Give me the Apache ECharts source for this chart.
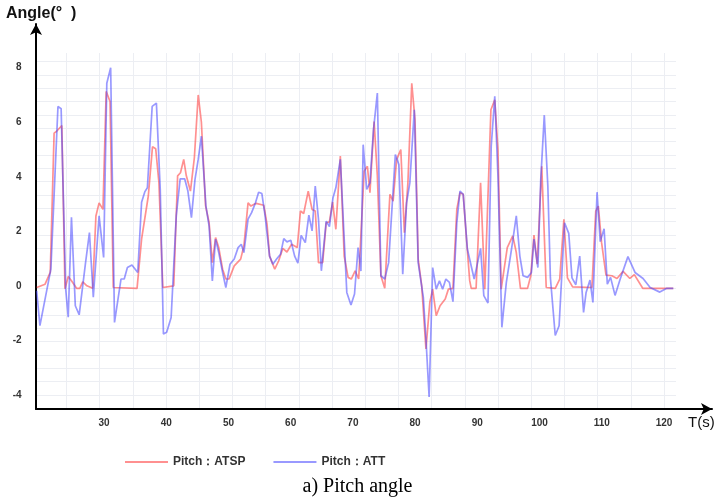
<!DOCTYPE html>
<html>
<head>
<meta charset="utf-8">
<script src="https://cdn.jsdelivr.net/npm/echarts@6/dist/echarts.min.js"></script>
<style>
html,body{margin:0;padding:0;background:#fff;}
#chart{width:715px;height:502px;}
</style>
</head>
<body>
<div id="chart"></div>
<script>
// Pitch: ATSP (red) — time (s) and angle (deg)
const atspT = [19.18,20.53,21.36,21.98,22.39,23.22,23.73,24.25,24.77,25.59,26.11,26.58,27.25,28.18,28.70,29.21,29.83,30.35,30.97,31.49,35.31,36.04,37.12,37.79,38.31,38.83,39.45,41.21,41.83,42.29,42.81,43.22,43.89,44.52,45.14,45.65,46.32,46.89,47.41,47.93,48.44,49.06,49.58,50.10,50.93,51.96,52.48,53.15,53.61,54.44,55.68,56.20,56.61,57.44,58.06,58.73,59.40,60.13,61.06,61.57,62.09,62.82,63.44,63.95,64.47,65.14,65.71,66.23,66.74,67.26,67.98,68.60,69.23,69.74,70.36,70.93,71.81,72.33,72.74,73.41,73.93,74.50,75.12,75.95,76.46,77.03,77.70,78.27,78.84,79.46,79.98,80.49,81.06,81.74,82.36,82.82,83.39,84.01,84.84,85.35,86.08,86.70,87.21,87.73,88.30,88.77,89.02,89.80,90.52,91.20,92.18,92.80,93.31,93.83,94.81,95.69,96.26,96.93,98.07,98.59,99.10,99.62,100.35,101.07,102.52,103.24,103.91,104.48,105.31,108.41,109.03,109.44,109.96,110.68,111.62,112.44,113.42,114.51,115.23,116.58,121.49];
const atspV = [-0.05,0.07,0.5,5.6,5.67,5.88,-0.1,0.35,0.2,-0.08,-0.08,0.16,0.01,-0.08,2.57,3.05,2.81,7.13,6.76,-0.05,-0.08,1.72,3.3,5.1,5.03,3.78,-0.05,0.01,4.04,4.15,4.64,4.05,3.48,4.7,7.0,6.0,2.95,2.32,0.86,1.78,1.41,0.62,0.26,0.26,0.74,0.99,1.47,3.05,2.93,3.03,2.96,2.26,1.1,0.62,0.92,1.38,1.25,1.53,1.41,2.75,2.66,3.48,2.81,2.75,0.86,0.86,2.32,2.35,3.08,2.08,4.76,1.1,0.32,0.26,0.56,0.26,4.21,4.39,3.42,6.03,4.03,0.38,-0.08,3.36,3.11,4.64,5.0,1.96,3.78,7.43,6.09,0.99,0.01,-2.3,-0.6,-0.11,-1.08,-0.72,-0.47,-0.11,-0.08,2.81,3.42,3.36,1.59,0.2,-0.08,-0.08,3.78,-0.11,6.46,6.82,5.0,-0.11,1.41,1.84,1.23,-0.08,-0.08,0.38,1.87,0.8,4.39,-0.05,-0.08,0.26,2.45,0.3,-0.03,-0.05,2.75,2.93,1.6,0.4,0.38,0.28,0.54,0.28,0.42,-0.08,-0.08];

// Pitch: ATT (blue)
const attT = [19.18,19.70,21.46,22.60,23.11,23.84,24.25,24.77,25.39,26.01,27.04,27.66,28.28,29.21,29.94,30.45,31.07,31.69,32.73,33.25,33.76,34.49,35.42,36.04,36.55,36.97,37.74,38.42,39.04,39.55,40.07,40.79,41.62,42.24,42.96,43.48,44.05,44.62,45.14,45.65,46.38,46.89,47.41,47.93,48.44,49.06,49.58,50.25,50.93,51.55,52.06,52.48,53.15,53.72,54.34,54.85,55.37,55.89,56.61,57.13,57.80,58.37,58.89,59.40,60.02,60.64,61.16,61.68,62.35,62.92,63.44,63.95,64.47,64.93,65.71,66.23,66.80,67.26,67.98,68.50,69.02,69.69,70.26,70.83,71.29,71.65,72.22,72.74,73.31,73.93,74.50,75.12,75.74,76.82,77.39,78.01,78.63,79.15,79.87,80.49,81.32,81.74,82.25,82.82,83.39,83.91,84.42,84.94,85.51,86.08,86.70,87.21,87.73,88.40,89.49,90.52,91.04,91.71,92.23,92.80,93.31,93.94,94.66,95.49,96.26,96.83,97.35,98.07,98.69,99.10,99.73,100.19,100.76,101.33,101.74,102.52,103.14,104.02,104.69,105.21,105.83,106.45,107.07,107.48,108.10,108.57,109.24,109.75,110.37,110.89,111.41,112.13,112.96,114.20,115.34,116.63,117.77,119.32,120.46,121.49];
const attV = [-0.17,-1.45,0.62,6.58,6.5,-0.1,-1.14,2.52,-0.72,-1.05,0.87,1.96,-0.41,2.57,1.05,7.43,8.0,-1.33,0.26,0.26,0.68,0.77,0.5,3.07,3.45,3.6,6.58,6.7,3.54,-1.75,-1.69,-1.15,2.6,3.93,3.93,3.48,2.51,3.9,4.64,5.49,2.93,2.2,0.19,1.72,1.23,0.5,-0.05,0.8,0.99,1.41,1.53,1.23,2.45,2.69,3.05,3.44,3.39,2.57,1.1,0.8,1.01,1.17,1.74,1.62,1.68,1.1,0.84,1.86,1.59,2.6,2.02,3.66,2.45,0.56,2.38,2.18,3.24,3.6,4.64,2.2,-0.23,-0.69,-0.29,1.41,0.55,5.18,3.54,3.78,5.73,7.07,0.38,0.26,0.86,4.82,4.45,0.44,3.05,3.78,6.46,0.86,-0.41,-1.93,-4.06,0.68,-0.11,0.19,-0.11,0.26,0.14,-0.57,2.32,3.48,3.36,1.35,0.26,1.38,-0.35,-0.62,5.12,6.95,4.03,-1.51,0.14,1.35,2.57,1.1,0.38,0.32,0.5,1.72,0.68,3.9,6.26,3.66,0.3,-1.81,-1.45,2.32,1.93,0.3,0.05,1.1,-0.96,-0.23,0.22,-0.6,3.44,1.63,2.1,0.07,0.32,-0.34,0.26,1.08,0.5,0.28,-0.05,-0.22,-0.08,-0.08];

const xTickLabels = [30,40,50,60,70,80,90,100,110,120];
const yTickLabels = [-4,-2,0,2,4,6,8];
const seriesNames = ['Pitch：ATSP','Pitch：ATT'];

const chart = echarts.init(document.getElementById('chart'), null, {renderer:'canvas'});
const tickFont = {fontSize:10, fontWeight:'bold', color:'#333', fontFamily:'Liberation Sans'};
const hidden = {axisLine:{show:false}, axisTick:{show:false}, axisLabel:{show:false}, splitLine:{show:false}};
const gridLineStyle = {show:true, lineStyle:{color:'#eceef3', width:1}};

chart.setOption({
  animation:false,
  backgroundColor:'#fff',
  title:[
    {text:'Angle(°  )', left:6, top:6, padding:0, textStyle:{fontSize:16, fontWeight:'bold', color:'#111', fontFamily:'Liberation Sans'}},
    {text:'T(s)', left:688, top:415, padding:0, textStyle:{fontSize:15, fontWeight:'normal', color:'#111', fontFamily:'Liberation Sans'}},
    {text:'a) Pitch angle', left:'center', top:477, padding:0, textStyle:{fontSize:20, fontWeight:'normal', color:'#000', fontFamily:'Liberation Serif'}}
  ],
  legend:{
    left:125, top:456, padding:0, itemWidth:43, itemHeight:2, itemGap:28,
    textStyle:{fontSize:12, fontWeight:'bold', color:'#333', fontFamily:'Liberation Sans'},
    data:[{name:seriesNames[0], icon:'rect'}, {name:seriesNames[1], icon:'rect'}]
  },
  grid:[
    {left:35.56, top:54, width:640.9, height:355},
    {left:36, top:24, right:3, height:385},
    {left:66.5, top:53, width:597.6, height:356},
    {left:36, top:61.7, width:640, height:333.3}
  ],
  xAxis:[
    {gridIndex:0, type:'value', min:19, max:122, interval:1,
     axisLine:{show:false}, axisTick:{show:false}, splitLine:{show:false},
     axisLabel:Object.assign({margin:9, formatter:v => xTickLabels.includes(v) ? String(v) : ''}, tickFont)},
    {gridIndex:1, type:'value', min:0, max:1,
     axisLine:{show:true, symbol:['none','arrow'], symbolSize:[9,11], lineStyle:{color:'#000', width:2}},
     axisTick:{show:false}, axisLabel:{show:false}, splitLine:{show:false}},
    Object.assign({gridIndex:2, type:'value', min:0, max:18, interval:1}, hidden, {splitLine:gridLineStyle}),
    Object.assign({gridIndex:3, type:'value', min:0, max:1}, hidden)
  ],
  yAxis:[
    {gridIndex:0, type:'value', min:-4.5, max:8.5, interval:0.5,
     axisLine:{show:false}, axisTick:{show:false}, splitLine:{show:false},
     axisLabel:Object.assign({margin:14, formatter:v => yTickLabels.includes(v) ? String(v) : ''}, tickFont)},
    {gridIndex:1, type:'value', min:0, max:1,
     axisLine:{show:true, symbol:['none','arrow'], symbolSize:[9,11], lineStyle:{color:'#000', width:2}},
     axisTick:{show:false}, axisLabel:{show:false}, splitLine:{show:false}},
    Object.assign({gridIndex:2, type:'value', min:0, max:1}, hidden),
    Object.assign({gridIndex:3, type:'value', min:0, max:25, interval:1}, hidden, {splitLine:gridLineStyle})
  ],
  series:[
    {name:seriesNames[0], type:'line', xAxisIndex:0, yAxisIndex:0, symbol:'none',
     color:'rgba(255,70,70,0.6)', lineStyle:{width:1.7, color:'rgba(255,70,70,0.6)'},
     data:atspT.map((t,i)=>[t, atspV[i]])},
    {name:seriesNames[1], type:'line', xAxisIndex:0, yAxisIndex:0, symbol:'none',
     color:'rgba(70,70,255,0.55)', lineStyle:{width:1.7, color:'rgba(70,70,255,0.55)'},
     data:attT.map((t,i)=>[t, attV[i]])}
  ]
});
</script>
</body>
</html>
